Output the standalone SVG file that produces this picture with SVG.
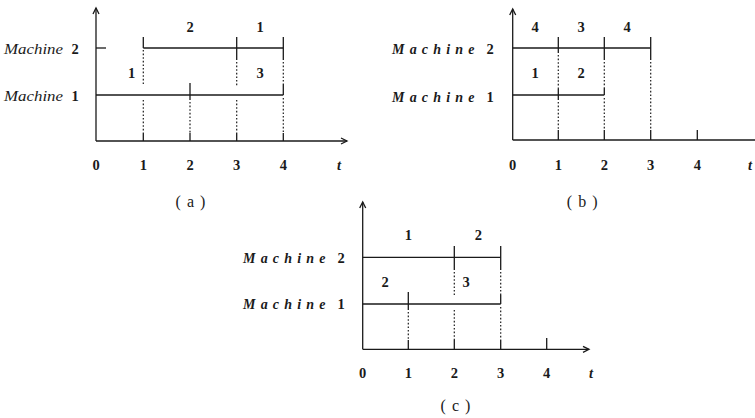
<svg xmlns="http://www.w3.org/2000/svg" width="755" height="418" viewBox="0 0 755 418">
<style>
  .ln { stroke:#1a1a1a; stroke-width:1.3; fill:none; }
  .dt { stroke:#1a1a1a; stroke-width:1.2; fill:none; stroke-dasharray:1.6 2; }
  .num { font-family:"Liberation Serif","DejaVu Serif",serif; font-size:14.5px; font-weight:bold; fill:#1a1a1a; text-anchor:middle; }
  .mach { font-family:"Liberation Serif","DejaVu Serif",serif; font-size:15px; font-style:italic; fill:#1a1a1a; }
  .machs { font-family:"Liberation Serif","DejaVu Serif",serif; font-size:14px; font-style:italic; font-weight:bold; fill:#1a1a1a; }
  .ti { font-family:"Liberation Serif","DejaVu Serif",serif; font-size:14.5px; font-style:italic; font-weight:bold; fill:#1a1a1a; text-anchor:middle; }
  .cap { font-family:"Liberation Serif","DejaVu Serif",serif; font-size:16px; letter-spacing:1px; fill:#1a1a1a; text-anchor:middle; }
</style>
<defs>
  <marker id="arr" markerWidth="10" markerHeight="10" refX="8" refY="5" orient="auto" markerUnits="userSpaceOnUse">
    <path d="M2,2 L8,5 L2,8" stroke="#1a1a1a" stroke-width="1.3" fill="none"/>
  </marker>
</defs>

<!-- Panel (a) -->
<g id="panel-a">
  <g id="a-axes">
    <line class="ln" x1="96" y1="141" x2="96" y2="8" marker-end="url(#arr)"/>
    <line class="ln" x1="96" y1="141" x2="347" y2="141" marker-end="url(#arr)"/>
  </g>
  <g id="a-bars">
    <line class="ln" x1="96" y1="48" x2="106" y2="48"/>
    <line class="ln" x1="143.3" y1="48" x2="283.3" y2="48"/>
    <line class="ln" x1="96" y1="95" x2="283.3" y2="95"/>
  </g>
  <g id="a-ticks">
    <line class="ln" x1="143.3" y1="37" x2="143.3" y2="48"/>
    <line class="dt" x1="143.3" y1="50" x2="143.3" y2="86"/>
    <line class="dt" x1="143.3" y1="100" x2="143.3" y2="133"/>
    <line class="ln" x1="143.3" y1="133" x2="143.3" y2="141"/>

    <line class="ln" x1="190" y1="83" x2="190" y2="100"/>
    <line class="dt" x1="190" y1="102" x2="190" y2="133"/>
    <line class="ln" x1="190" y1="133" x2="190" y2="141"/>

    <line class="ln" x1="236.7" y1="37" x2="236.7" y2="60"/>
    <line class="dt" x1="236.7" y1="62" x2="236.7" y2="86"/>
    <line class="dt" x1="236.7" y1="100" x2="236.7" y2="133"/>
    <line class="ln" x1="236.7" y1="133" x2="236.7" y2="141"/>

    <line class="ln" x1="283.3" y1="37" x2="283.3" y2="60"/>
    <line class="dt" x1="283.3" y1="62" x2="283.3" y2="84"/>
    <line class="ln" x1="283.3" y1="84" x2="283.3" y2="95"/>
    <line class="dt" x1="283.3" y1="98" x2="283.3" y2="133"/>
    <line class="ln" x1="283.3" y1="133" x2="283.3" y2="141"/>
  </g>
  <g id="a-labels">
    <text class="mach" x="4" y="53.5" textLength="59" lengthAdjust="spacingAndGlyphs">Machine</text>
    <text class="num" x="75" y="53.5">2</text>
    <text class="mach" x="4" y="100.5" textLength="59" lengthAdjust="spacingAndGlyphs">Machine</text>
    <text class="num" x="75" y="100.5">1</text>
    <text class="num" x="190" y="32">2</text>
    <text class="num" x="260" y="32">1</text>
    <text class="num" x="131.7" y="78">1</text>
    <text class="num" x="260" y="78">3</text>
    <text class="num" x="96" y="170">0</text>
    <text class="num" x="143.3" y="170">1</text>
    <text class="num" x="190" y="170">2</text>
    <text class="num" x="236.7" y="170">3</text>
    <text class="num" x="283.3" y="170">4</text>
    <text class="ti" x="339" y="170">t</text>
    <text class="cap" x="191" y="206.5">( a )</text>
  </g>
</g>

<!-- Panel (b) -->
<g id="panel-b">
  <g id="b-axes">
    <line class="ln" x1="512.7" y1="140" x2="512.7" y2="9" marker-end="url(#arr)"/>
    <line class="ln" x1="512.7" y1="140" x2="762" y2="140"/>
  </g>
  <g id="b-bars">
    <line class="ln" x1="512.7" y1="48" x2="650.7" y2="48"/>
    <line class="ln" x1="512.7" y1="95" x2="604.3" y2="95"/>
  </g>
  <g id="b-ticks">
    <line class="ln" x1="558.3" y1="37" x2="558.3" y2="53"/>
    <line class="dt" x1="558.3" y1="55" x2="558.3" y2="89"/>
    <line class="ln" x1="558.3" y1="89" x2="558.3" y2="100"/>
    <line class="dt" x1="558.3" y1="102" x2="558.3" y2="130"/>
    <line class="ln" x1="558.3" y1="130" x2="558.3" y2="140"/>

    <line class="ln" x1="604.3" y1="37" x2="604.3" y2="60"/>
    <line class="dt" x1="604.3" y1="62" x2="604.3" y2="88"/>
    <line class="ln" x1="604.3" y1="88" x2="604.3" y2="95"/>
    <line class="dt" x1="604.3" y1="98" x2="604.3" y2="130"/>
    <line class="ln" x1="604.3" y1="130" x2="604.3" y2="140"/>

    <line class="ln" x1="650.7" y1="37" x2="650.7" y2="60"/>
    <line class="dt" x1="650.7" y1="62" x2="650.7" y2="130"/>
    <line class="ln" x1="650.7" y1="130" x2="650.7" y2="140"/>

    <line class="ln" x1="697.3" y1="130" x2="697.3" y2="140"/>
  </g>
  <g id="b-labels">
    <text class="machs" x="392" y="53.5" letter-spacing="5.2">Machine</text>
    <text class="num" x="490" y="53.5">2</text>
    <text class="machs" x="392" y="101.5" letter-spacing="5.2">Machine</text>
    <text class="num" x="490" y="101.5">1</text>
    <text class="num" x="535" y="31.5">4</text>
    <text class="num" x="581" y="31.5">3</text>
    <text class="num" x="627" y="31.5">4</text>
    <text class="num" x="535" y="78">1</text>
    <text class="num" x="581" y="78">2</text>
    <text class="num" x="512.7" y="170">0</text>
    <text class="num" x="558.3" y="170">1</text>
    <text class="num" x="604.3" y="170">2</text>
    <text class="num" x="650.7" y="170">3</text>
    <text class="num" x="697.3" y="170">4</text>
    <text class="ti" x="750" y="170">t</text>
    <text class="cap" x="582.7" y="206.5">( b )</text>
  </g>
</g>

<!-- Panel (c) -->
<g id="panel-c">
  <g id="c-axes">
    <line class="ln" x1="362.7" y1="349.3" x2="362.7" y2="202" marker-end="url(#arr)"/>
    <line class="ln" x1="362.7" y1="349.3" x2="589" y2="349.3" marker-end="url(#arr)"/>
  </g>
  <g id="c-bars">
    <line class="ln" x1="362.7" y1="257.3" x2="500.7" y2="257.3"/>
    <line class="ln" x1="362.7" y1="304" x2="500.7" y2="304"/>
  </g>
  <g id="c-ticks">
    <line class="ln" x1="408.3" y1="292" x2="408.3" y2="310"/>
    <line class="dt" x1="408.3" y1="312" x2="408.3" y2="340"/>
    <line class="ln" x1="408.3" y1="340" x2="408.3" y2="349.3"/>

    <line class="ln" x1="454.3" y1="246" x2="454.3" y2="270"/>
    <line class="dt" x1="454.3" y1="272" x2="454.3" y2="295"/>
    <line class="dt" x1="454.3" y1="310" x2="454.3" y2="340"/>
    <line class="ln" x1="454.3" y1="340" x2="454.3" y2="349.3"/>

    <line class="ln" x1="500.7" y1="246" x2="500.7" y2="270"/>
    <line class="dt" x1="500.7" y1="272" x2="500.7" y2="295"/>
    <line class="ln" x1="500.7" y1="295" x2="500.7" y2="304"/>
    <line class="dt" x1="500.7" y1="307" x2="500.7" y2="340"/>
    <line class="ln" x1="500.7" y1="340" x2="500.7" y2="349.3"/>

    <line class="ln" x1="546.7" y1="338" x2="546.7" y2="349.3"/>
  </g>
  <g id="c-labels">
    <text class="machs" x="243" y="262.5" letter-spacing="5.2">Machine</text>
    <text class="num" x="341" y="262.5">2</text>
    <text class="machs" x="243" y="309" letter-spacing="5.2">Machine</text>
    <text class="num" x="341" y="309">1</text>
    <text class="num" x="408.3" y="240">1</text>
    <text class="num" x="478.3" y="240">2</text>
    <text class="num" x="385" y="286.5">2</text>
    <text class="num" x="466" y="286.5">3</text>
    <text class="num" x="362.7" y="378">0</text>
    <text class="num" x="408.3" y="378">1</text>
    <text class="num" x="454.3" y="378">2</text>
    <text class="num" x="500.7" y="378">3</text>
    <text class="num" x="546.7" y="378">4</text>
    <text class="ti" x="591" y="378">t</text>
    <text class="cap" x="456" y="411">( c )</text>
  </g>
</g>
</svg>
